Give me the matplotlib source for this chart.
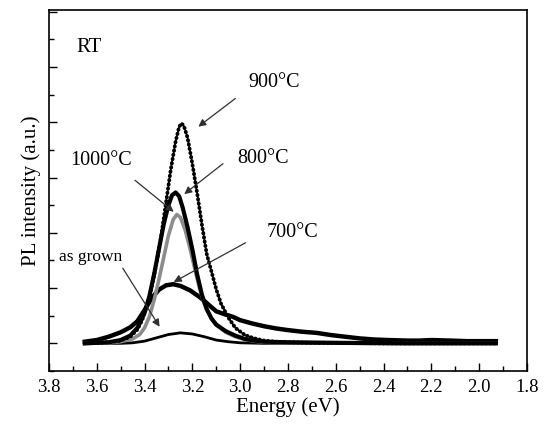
import matplotlib
matplotlib.use("Agg")
import matplotlib.pyplot as plt
from matplotlib.ticker import MultipleLocator, NullFormatter

plt.rcParams["font.family"] = ["Liberation Serif", "DejaVu Serif"]

# PL spectra at room temperature, photon energy (eV) vs intensity (a.u.)
e_900 = [3.65, 3.60, 3.55, 3.50, 3.46, 3.43, 3.41, 3.39, 3.37, 3.35, 3.33, 3.31,
         3.29, 3.27, 3.255, 3.245, 3.235, 3.22, 3.20, 3.18, 3.16, 3.14, 3.12,
         3.10, 3.08, 3.05, 3.02, 2.98, 2.94, 2.90, 2.85, 2.80, 2.70, 2.60,
         2.40, 2.20, 2.00, 1.93]
i_900 = [0.00, 0.01, 0.02, 0.05, 0.12, 0.25, 0.42, 0.68, 1.02, 1.45, 1.95, 2.55,
         3.15, 3.65, 3.92, 3.98, 3.93, 3.72, 3.25, 2.72, 2.15, 1.62, 1.30,
         0.98, 0.72, 0.47, 0.28, 0.15, 0.09, 0.05, 0.03, 0.02, 0.01, 0.01,
         0.00, 0.00, 0.00, 0.00]

e_800 = [3.65, 3.55, 3.50, 3.46, 3.43, 3.40, 3.38, 3.36, 3.34, 3.32, 3.30, 3.285,
         3.27, 3.255, 3.24, 3.22, 3.20, 3.18, 3.16, 3.14, 3.12, 3.10, 3.06,
         3.02, 2.98, 2.94, 2.90, 2.80, 2.60, 2.30, 2.00, 1.93]
i_800 = [0.00, 0.02, 0.06, 0.14, 0.28, 0.55, 0.85, 1.25, 1.70, 2.15, 2.50, 2.68,
         2.73, 2.66, 2.45, 2.10, 1.70, 1.25, 0.88, 0.62, 0.45, 0.34, 0.22,
         0.14, 0.08, 0.05, 0.03, 0.02, 0.01, 0.00, 0.00, 0.00]

e_1000 = [3.65, 3.55, 3.50, 3.45, 3.42, 3.40, 3.38, 3.36, 3.34, 3.32, 3.30, 3.28,
          3.265, 3.25, 3.23, 3.21, 3.19, 3.17, 3.15, 3.12, 3.10, 3.06, 3.02,
          2.98, 2.94, 2.90, 2.80, 2.50, 2.20, 1.93]
i_1000 = [0.00, 0.01, 0.03, 0.08, 0.16, 0.28, 0.48, 0.78, 1.15, 1.55, 1.95, 2.24,
          2.33, 2.28, 2.05, 1.72, 1.35, 1.00, 0.72, 0.45, 0.33, 0.20, 0.12,
          0.07, 0.04, 0.02, 0.01, 0.00, 0.00, 0.00]

e_700 = [3.65, 3.60, 3.55, 3.50, 3.46, 3.43, 3.40, 3.37, 3.34, 3.31, 3.28, 3.25,
         3.21, 3.17, 3.14, 3.10, 3.06, 3.03, 3.00, 2.95, 2.90, 2.85, 2.80,
         2.74, 2.68, 2.62, 2.56, 2.50, 2.44, 2.38, 2.30, 2.25, 2.20, 2.12,
         2.05, 2.00, 1.93]
i_700 = [0.03, 0.06, 0.12, 0.20, 0.29, 0.40, 0.60, 0.82, 0.97, 1.05, 1.07, 1.04,
         0.96, 0.84, 0.73, 0.58, 0.52, 0.48, 0.42, 0.36, 0.31, 0.27, 0.24,
         0.21, 0.19, 0.15, 0.12, 0.09, 0.07, 0.06, 0.05, 0.05, 0.06, 0.05,
         0.04, 0.04, 0.04]

e_asgrown = [3.65, 3.50, 3.45, 3.40, 3.35, 3.30, 3.25, 3.20, 3.15, 3.10, 3.05,
             3.00, 2.90, 2.50, 2.00, 1.93]
i_asgrown = [0.00, 0.00, 0.01, 0.04, 0.10, 0.16, 0.19, 0.17, 0.12, 0.06, 0.03,
             0.01, 0.00, 0.00, 0.00, 0.00]

fig = plt.figure(figsize=(5.5, 4.3), dpi=100)
ax = fig.add_axes([0.089, 0.1372, 0.869, 0.8395])

# thick baseline traces first, then the peaked curves on top
ax.plot(e_asgrown, i_asgrown, color="black", lw=2.0, solid_capstyle="butt")
ax.plot(e_700, i_700, color="black", lw=3.2, solid_joinstyle="round")
ax.plot(e_1000, i_1000, color="#8c8c8c", lw=2.6, solid_joinstyle="round")
ax.plot(e_800, i_800, color="black", lw=3.0, solid_joinstyle="round")
# beaded trace for 900 C
ax.plot(e_900, i_900, color="black", lw=1.1)
ax.plot(e_900, i_900, color="black", lw=2.8, linestyle=(0, (0.1, 1.0)),
        dash_capstyle="round")

ax.set_xlim(3.8, 1.8)
ax.set_ylim(-0.5, 6.03)
ax.xaxis.set_major_locator(MultipleLocator(0.2))
ax.xaxis.set_minor_locator(MultipleLocator(0.1))
ax.yaxis.set_major_locator(MultipleLocator(1.0))
ax.yaxis.set_minor_locator(MultipleLocator(0.5))
ax.yaxis.set_major_formatter(NullFormatter())
ax.tick_params(which="both", direction="in", top=False, right=False,
               width=1.0, labelsize=13.5)
ax.tick_params(which="major", length=6)
ax.tick_params(which="minor", length=3.5)
ax.tick_params(axis="x", pad=6)
for s in ax.spines.values():
    s.set_linewidth(1.2)

ax.set_xlabel("Energy (eV)", fontsize=15, labelpad=1)
ax.set_ylabel("PL intensity (a.u.)", fontsize=15, labelpad=2)

ax.text(3.687, 5.36, "RT", fontsize=15, ha="left", va="center")

arrow = dict(arrowstyle="-|>", color="#303030", lw=0.9,
             mutation_scale=11, shrinkA=0, shrinkB=0)
labels = [
    ("900°C", (2.859, 4.71), (3.020, 4.43), (3.175, 3.92), 14.5),
    ("800°C", (2.906, 3.35), (3.072, 3.25), (3.234, 2.70), 14.5),
    ("1000°C", (3.580, 3.31), (3.440, 2.95), (3.278, 2.38), 14.5),
    ("700°C", (2.779, 2.01), (2.977, 1.82), (3.278, 1.11), 14.5),
    ("as grown", (3.624, 1.56), (3.491, 1.36), (3.337, 0.30), 12.5),
]
for txt, pos, tail, head, fs in labels:
    ax.text(pos[0], pos[1], txt, fontsize=fs, ha="center", va="center")
    ax.annotate("", xy=head, xytext=tail, arrowprops=arrow)

fig.savefig("out.png", dpi=100)
